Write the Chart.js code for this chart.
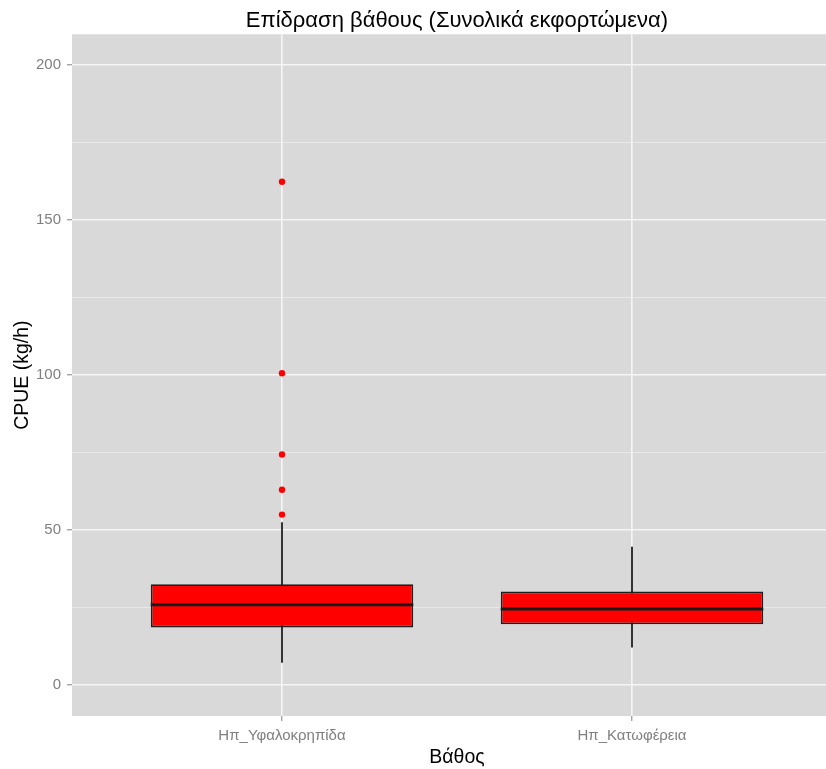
<!DOCTYPE html>
<html>
<head>
<meta charset="utf-8">
<script src="https://cdn.jsdelivr.net/npm/chart.js@4.4.1/dist/chart.umd.min.js"></script>
<style>
	html, body { margin: 0; padding: 0; background: #ffffff; overflow: hidden; }
	#wrap { width: 826px; height: 769px; overflow: hidden; }
</style>
</head>
<body>
<div id="wrap"><canvas id="chart" width="842" height="769"></canvas></div>
<script>
// data
const categories   = ["Ηπ_Υφαλοκρηπίδα", "Ηπ_Κατωφέρεια"];
const lowerWhisker = [7.2, 12.1];
const q1           = [18.6, 19.6];
const median       = [25.9, 24.5];
const q3           = [32.5, 30.2];
const upperWhisker = [52.5, 44.6];
const outliers     = [[55.0, 63.0, 74.4, 100.6, 162.4], []];
const yMajorTicks  = [0, 50, 100, 150, 200];
const yMinorTicks  = [25, 75, 125, 175];

const BOX_WIDTH = 0.75;
const FONT = "'Liberation Sans', Arial, sans-serif";

let boxData = categories.map((c, i) => ({ x: i + 1, y: [q1[i], q3[i]] }));
let outlierData = [];
outliers.forEach(function (list, i) {
	list.forEach(function (v) {
		outlierData.push({ x: i + 1, y: v });
	});
});

// grey panel behind everything
const panelBg = {
	id: 'panelBg',
	beforeDraw(chart) {
		let a = chart.chartArea;
		let ctx = chart.ctx;
		ctx.save();
		ctx.fillStyle = '#d9d9d9';
		ctx.fillRect(a.left, a.top, a.right - a.left, a.bottom - a.top);
		ctx.restore();
	}
};

// whiskers under the boxes, medians on top
const boxParts = {
	id: 'boxParts',
	beforeDatasetsDraw(chart) {
		let x = chart.scales.x, y = chart.scales.y, ctx = chart.ctx;
		ctx.save();
		ctx.strokeStyle = '#333333';
		ctx.lineWidth = 2;
		categories.forEach(function (c, i) {
			let px = x.getPixelForValue(i + 1);
			ctx.beginPath();
			ctx.moveTo(px, y.getPixelForValue(lowerWhisker[i]));
			ctx.lineTo(px, y.getPixelForValue(upperWhisker[i]));
			ctx.stroke();
		});
		ctx.restore();
	},
	afterDatasetsDraw(chart) {
		let x = chart.scales.x, y = chart.scales.y, ctx = chart.ctx;
		ctx.save();
		ctx.strokeStyle = '#1a1a1a';
		ctx.lineWidth = 3;
		categories.forEach(function (c, i) {
			let py = y.getPixelForValue(median[i]);
			ctx.beginPath();
			ctx.moveTo(x.getPixelForValue(i + 1 - BOX_WIDTH / 2), py);
			ctx.lineTo(x.getPixelForValue(i + 1 + BOX_WIDTH / 2), py);
			ctx.stroke();
		});
		ctx.restore();
	}
};

let ctx = document.getElementById('chart');
let myChart = new Chart(ctx, {
	type: 'bar',
	data: {
		datasets: [
			{
				type: 'scatter',
				data: outlierData,
				backgroundColor: '#ff0000',
				borderColor: '#ff0000',
				pointRadius: 3.2,
				pointBorderWidth: 0
			},
			{
				type: 'bar',
				data: boxData,
				backgroundColor: '#ff0000',
				borderColor: '#1f1f1f',
				borderWidth: 1.8,
				borderSkipped: false,
				categoryPercentage: 1,
				barPercentage: BOX_WIDTH
			}
		]
	},
	options: {
		responsive: false,
		devicePixelRatio: 1,
		animation: false,
		layout: { padding: 0, autoPadding: false },
		plugins: {
			legend: { display: false },
			tooltip: { enabled: false },
			title: {
				display: true,
				fullSize: false,
				text: 'Επίδραση βάθους (Συνολικά εκφορτώμενα)',
				color: '#000000',
				font: { family: FONT, size: 22, weight: 'normal', lineHeight: 1.2 },
				padding: { top: 7.4, bottom: 0.5 }
			}
		},
		scales: {
			x: {
				type: 'linear',
				min: 0.4,
				max: 2.6,
				offset: false,
				border: { display: false },
				afterBuildTicks: function (scale) {
					scale.ticks = categories.map((c, i) => ({ value: i + 1 }));
				},
				afterFit: function (scale) { scale.height = 53; },
				grid: {
					offset: false,
					color: '#f5f5f5',
					lineWidth: 1.6,
					drawTicks: true,
					tickLength: 5,
					tickColor: '#7f7f7f',
					tickWidth: 1
				},
				ticks: {
					color: '#7f7f7f',
					font: { family: FONT, size: 15 },
					padding: 6,
					maxRotation: 0,
					autoSkip: false,
					callback: function (value) { return categories[value - 1] || ''; }
				},
				title: {
					display: true,
					text: 'Βάθος',
					color: '#000000',
					font: { family: FONT, size: 19.5 },
					padding: { top: 0, bottom: 0 }
				}
			},
			y: {
				type: 'linear',
				min: -10,
				max: 210,
				border: { display: false },
				afterBuildTicks: function (scale) {
					scale.ticks = yMajorTicks.concat(yMinorTicks).sort((a, b) => a - b).map(v => ({ value: v }));
				},
				afterFit: function (scale) { scale.width = 72; },
				grid: {
					color: ctx => yMajorTicks.includes(ctx.tick.value) ? '#f5f5f5' : '#ebebeb',
					lineWidth: ctx => yMajorTicks.includes(ctx.tick.value) ? 1.6 : 0.9,
					drawTicks: true,
					tickLength: 5,
					tickColor: ctx => yMajorTicks.includes(ctx.tick.value) ? '#7f7f7f' : 'rgba(0,0,0,0)',
					tickWidth: 1
				},
				ticks: {
					color: '#7f7f7f',
					font: { family: FONT, size: 15 },
					padding: 6,
					autoSkip: false,
					callback: function (value) { return yMajorTicks.includes(value) ? String(value) : ''; }
				},
				title: {
					display: true,
					text: 'CPUE (kg/h)',
					color: '#000000',
					font: { family: FONT, size: 19.5 },
					padding: { top: 10.5, bottom: 0 }
				}
			}
		}
	},
	plugins: [panelBg, boxParts]
});
</script>
</body>
</html>
